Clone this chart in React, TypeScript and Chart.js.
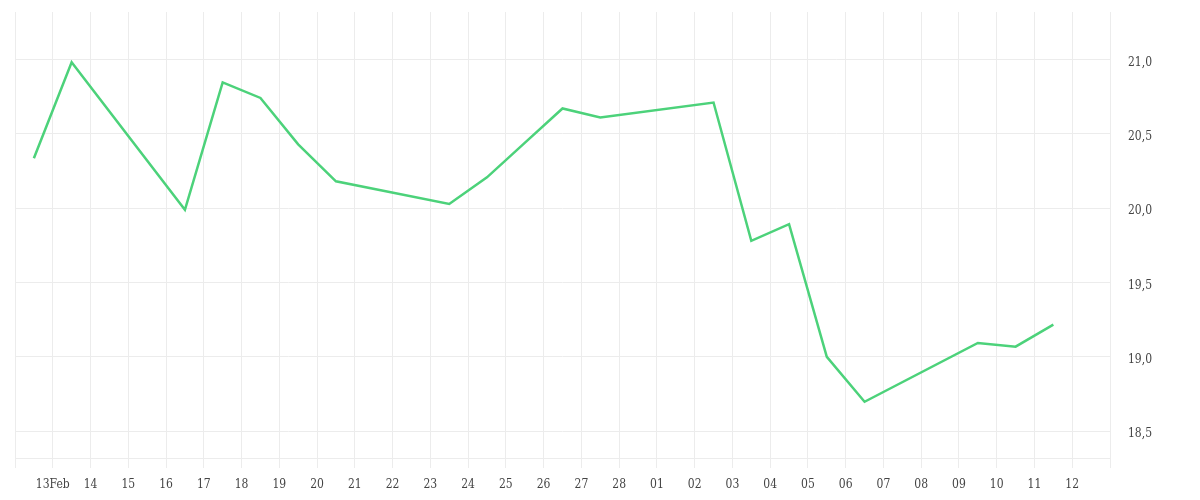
import React, { useEffect, useRef } from 'react';
import { Chart, registerables } from 'chart.js';

Chart.register(...registerables);

// Day slots from 12 Feb (0) to 13 Mar (29)
const tickLabels = ['', '13Feb', '14', '15', '16', '17', '18', '19', '20', '21', '22', '23', '24', '25', '26', '27', '28', '01', '02', '03', '04', '05', '06', '07', '08', '09', '10', '11', '12', ''];
// Trading-day positions (mid-day within each day slot)
const dayPositions = [0.5, 1.5, 4.5, 5.5, 6.5, 7.5, 8.5, 11.5, 12.5, 13.5, 14.5, 15.5, 18.5, 19.5, 20.5, 21.5, 22.5, 25.5, 26.5, 27.5];
const prices = [20.336, 20.982, 19.989, 20.846, 20.742, 20.43, 20.181, 20.029, 20.208, 20.44, 20.671, 20.611, 20.711, 19.781, 19.893, 19.0, 18.698, 19.094, 19.069, 19.217];
const yTicks = [18.5, 19.0, 19.5, 20.0, 20.5, 21.0];

const GRID = '#ececec';
const TEXT = '#444444';
const FONT = { family: "'DejaVu Serif Condensed', 'DejaVu Serif', serif", size: 12 };

export default function App() {
  const ref = useRef<HTMLCanvasElement | null>(null);

  useEffect(() => {
    if (!ref.current) return;
    const chart = new Chart(ref.current, {
      type: 'line',
      data: {
        datasets: [
          {
            data: dayPositions.map((x, i) => ({ x, y: prices[i] })),
            borderColor: '#4cd27a',
            borderWidth: 2.5,
            pointRadius: 0,
            tension: 0,
            fill: false,
          },
        ],
      },
      options: {
        animation: false,
        responsive: true,
        maintainAspectRatio: false,
        layout: { padding: { top: 12, left: 15, right: 0, bottom: 0 } },
        plugins: { legend: { display: false }, tooltip: { enabled: false } },
        scales: {
          x: {
            type: 'linear',
            min: 0,
            max: tickLabels.length - 1,
            afterBuildTicks: (s: any) => {
              s.ticks = tickLabels.map((_, i) => ({ value: i }));
            },
            afterFit: (s: any) => {
              s.height = 42;
              s.paddingLeft = 0;
              s.paddingRight = 0;
            },
            ticks: {
              autoSkip: false,
              maxRotation: 0,
              minRotation: 0,
              padding: 10,
              color: TEXT,
              font: FONT,
              callback: (_v: any, i: number) => tickLabels[i] ?? '',
            },
            grid: { color: GRID, tickLength: 10 },
            border: { color: GRID },
          },
          y: {
            type: 'linear',
            position: 'right',
            min: 18.32,
            max: 21.32,
            afterBuildTicks: (s: any) => {
              s.ticks = yTicks.map((v) => ({ value: v }));
            },
            afterFit: (s: any) => {
              s.width = 90;
              s.paddingTop = 0;
              s.paddingBottom = 0;
            },
            ticks: {
              padding: 18,
              labelOffset: 3,
              color: TEXT,
              font: FONT,
              callback: (v: any) => Number(v).toFixed(1).replace('.', ','),
            },
            grid: { color: GRID, drawTicks: false },
            border: { color: GRID },
          },
        },
      },
    });
    return () => chart.destroy();
  }, []);

  return (
    <div style={{ position: 'fixed', left: 0, top: 0, width: 1200, height: 500, background: '#fff' }}>
      <canvas ref={ref} />
    </div>
  );
}
